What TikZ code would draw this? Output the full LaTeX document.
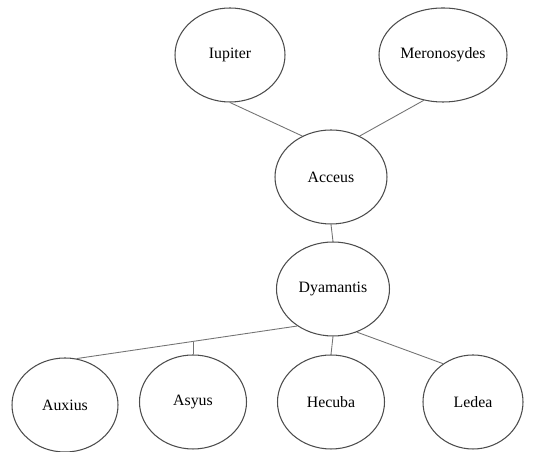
\documentclass[tikz,border=0pt]{standalone}
\usepackage{fontspec}
\setmainfont{Liberation Serif}
\usepackage{tikz}
\usetikzlibrary{shapes.geometric}
\tikzset{%
	person/.style={
		ellipse,
		draw=black!70,
		line width=0.6pt,
		minimum width=2.2cm,
		minimum height=1.88cm,
		inner sep=0pt,
		font=\small
	},
	link/.style={
		draw=black!55,
		line width=0.5pt
	},
}
\begin{document}
\begin{tikzpicture}
	\useasboundingbox (0,0) rectangle (10.7,9.04);
	
	% Draw the parents
	\node[person] (iup) at (4.6,7.94) {Iupiter};
	\node[person, minimum width=2.56cm] (mer) at (8.86,7.94) {Meronosydes};
	
	% Draw the middle generations
	\node[person, minimum width=2.24cm] (acc) at (6.62,5.5) {Acceus};
	\node[person, minimum width=2.26cm] (dya) at (6.66,3.26) {Dyamantis};
	
	% Draw the children
	\node[person, minimum width=2.12cm] (aux) at (1.3,0.94) {Auxius};
	\node[person, minimum width=2.14cm] (asy) at (3.86,1.0) {Asyus};
	\node[person, minimum width=2.14cm] (hec) at (6.62,1.0) {Hecuba};
	\node[person, minimum width=2.0cm] (led) at (9.46,1.0) {Ledea};
	
	% Lines between parents and child
	\draw[link] (iup.south) -- (acc.125);
	\draw[link] (mer.-113) -- (acc.55);
	\draw[link] (acc.south) -- (dya.north);
	
	% Lines from Dyamantis to the children
	\draw[link] (dya.226) -- (aux.76) coordinate[pos=0.49] (asytop);
	\draw[link] (asy.north) -- (asy.north |- asytop);
	\draw[link] (dya.south) -- (hec.north);
	\draw[link] (dya.-61) -- (led.128);
	
\end{tikzpicture}
\end{document}
